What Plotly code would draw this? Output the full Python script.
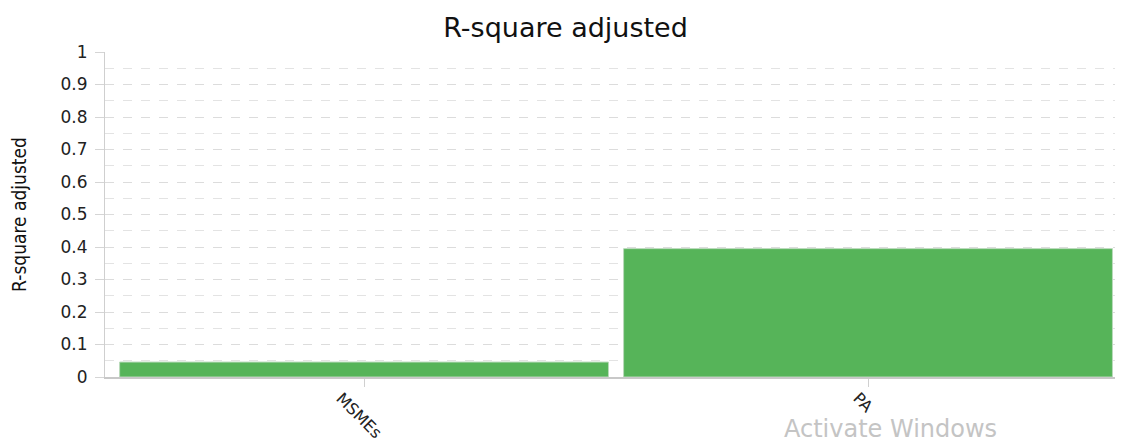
import plotly.graph_objects as go

categories = ["MSMEs", "PA"]
values = [0.046, 0.395]
y_ticks = [0, 0.1, 0.2, 0.3, 0.4, 0.5, 0.6, 0.7, 0.8, 0.9, 1]
y_tick_labels = ["0", "0.1", "0.2", "0.3", "0.4", "0.5", "0.6", "0.7", "0.8", "0.9", "1"]

WIDE = "DejaVu Sans, Verdana, sans-serif"

fig = go.Figure(go.Bar(
    x=categories, y=values,
    marker=dict(color="#56b459", line=dict(color="#b9d9ba", width=1)),
))

annotations = [
    dict(text=c, x=c, xref="x", yref="paper", y=-0.028, xanchor="center", yanchor="top",
         textangle=45, showarrow=False, xshift=-5,
         font=dict(size=16, color="#222", family=WIDE))
    for c in categories
]
annotations.append(dict(text="Activate Windows", xref="paper", yref="paper", x=0.774, y=-0.21,
                        xanchor="center", yanchor="bottom", showarrow=False,
                        font=dict(size=24, color="#c4c4c4", family=WIDE)))

fig.update_layout(
    width=1115, height=437,
    margin=dict(l=97, r=3, t=44, b=68),
    paper_bgcolor="white", plot_bgcolor="white",
    bargap=0.03,
    showlegend=False,
    font=dict(family=WIDE, color="#222"),
    title=dict(text="R-square adjusted", x=0.5, xanchor="center", y=0.978, yanchor="top",
               font=dict(size=27, color="#111", family=WIDE)),
    annotations=annotations,
)

fig.update_yaxes(
    range=[0, 1], tickvals=y_ticks, ticktext=y_tick_labels,
    showgrid=True, gridcolor="#dcdcdc", griddash="dash", gridwidth=1,
    minor=dict(dtick=0.05, showgrid=True, gridcolor="#e3e3e3", griddash="dash", ticks=""),
    showline=True, linecolor="#cfcfcf", linewidth=1,
    ticks="outside", ticklen=9, tickcolor="#d5d5d5", ticklabelstandoff=4,
    tickfont=dict(size=17, color="#222", family=WIDE),
    title=dict(text="R-square adjusted",
               font=dict(size=19, family="Liberation Sans Narrow, DejaVu Sans Condensed, sans-serif", color="#111"),
               standoff=28),
    zeroline=False,
)

fig.update_xaxes(
    range=[-0.514, 1.5],
    showline=True, linecolor="#c8c8c8", linewidth=2,
    ticks="outside", ticklen=8, tickcolor="#d0d0d0",
    showticklabels=False,
    showgrid=False,
)

fig.write_html("out.html")
